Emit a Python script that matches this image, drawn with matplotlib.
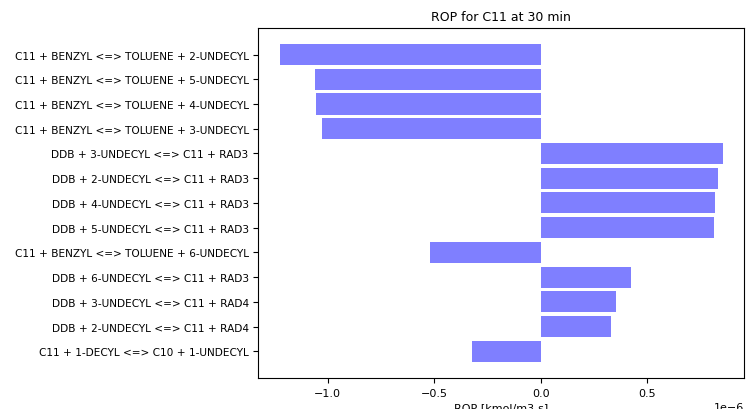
import matplotlib.pyplot as plt
import numpy as np

reactions = [
    'C11 + BENZYL <=> TOLUENE + 2-UNDECYL',
    'C11 + BENZYL <=> TOLUENE + 5-UNDECYL',
    'C11 + BENZYL <=> TOLUENE + 4-UNDECYL',
    'C11 + BENZYL <=> TOLUENE + 3-UNDECYL',
    'DDB + 3-UNDECYL <=> C11 + RAD3',
    'DDB + 2-UNDECYL <=> C11 + RAD3',
    'DDB + 4-UNDECYL <=> C11 + RAD3',
    'DDB + 5-UNDECYL <=> C11 + RAD3',
    'C11 + BENZYL <=> TOLUENE + 6-UNDECYL',
    'DDB + 6-UNDECYL <=> C11 + RAD3',
    'DDB + 3-UNDECYL <=> C11 + RAD4',
    'DDB + 2-UNDECYL <=> C11 + RAD4',
    'C11 + 1-DECYL <=> C10 + 1-UNDECYL',
]
rop = np.array([-1.222, -1.061, -1.057, -1.028, 0.854, 0.830, 0.816, 0.811,
                -0.519, 0.425, 0.354, 0.330, -0.321]) * 1e-6

fig = plt.figure(figsize=(7.47, 4.10), dpi=100)
ax = fig.add_axes([0.346, 0.076, 0.650, 0.853])

y = np.arange(len(reactions))
ax.barh(y, rop, color='blue', alpha=0.5, height=0.85)
ax.set_yticks(y)
ax.set_yticklabels(reactions, fontsize=7.6)
ax.invert_yaxis()
ax.set_xlim(-1.325e-6, 0.953e-6)
ax.tick_params(axis='x', labelsize=8)
ax.xaxis.get_offset_text().set_fontsize(8)
ax.set_xlabel('ROP [kmol/m3-s]', fontsize=8, labelpad=3)
ax.set_title('ROP for C11 at 30 min', fontsize=9)

fig.savefig('out.png', dpi=100)
